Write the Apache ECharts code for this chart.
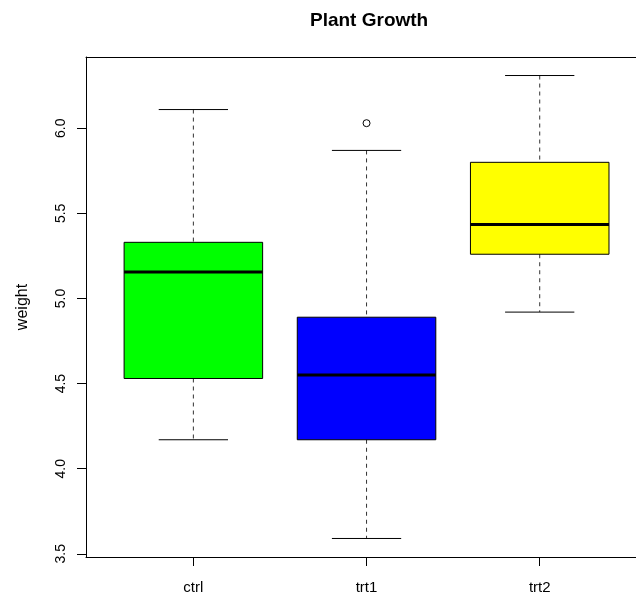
<!DOCTYPE html>
<html><head><meta charset="utf-8">
<script src="https://cdn.jsdelivr.net/npm/echarts@6/dist/echarts.min.js"></script>
<style>html,body{margin:0;padding:0;background:#fff}#c{width:636px;height:595px}</style>
</head><body><div id="c"></div>
<script>
var categories = ['ctrl', 'trt1', 'trt2'];
// [lowerWhisker, Q1, median, Q3, upperWhisker]
var boxStats = [
  [4.17, 4.53, 5.155, 5.33, 6.11],
  [3.59, 4.17, 4.55, 4.89, 5.87],
  [4.92, 5.26, 5.435, 5.80, 6.31]
];
var outliers = [[2, 6.03]];
var boxColors = ['#00ff00', '#0000ff', '#ffff00'];
var yTicks = [3.5, 4.0, 4.5, 5.0, 5.5, 6.0];

var chart = echarts.init(document.getElementById('c'), null, {renderer: 'canvas'});
var boxData = boxStats.map(function (s, i) { return [i + 1].concat(s); });

chart.setOption({
  animation: false,
  title: {
    text: 'Plant Growth', left: 305, top: 6,
    textStyle: {fontFamily: 'Liberation Sans', fontWeight: 'bold', fontSize: 19, color: '#000'}
  },
  grid: {left: 86, top: 57, width: 551, height: 501, show: false, containLabel: false},
  xAxis: [{
    type: 'value', min: 0.38, max: 3.556,
    axisLine: {show: true, onZero: false, lineStyle: {color: '#000', width: 1}},
    splitLine: {show: false},
    axisTick: {show: true, inside: false, length: 9, lineStyle: {color: '#000'}, customValues: [1, 2, 3]},
    axisLabel: {
      customValues: [1, 2, 3], margin: 23,
      formatter: function (v) { return categories[Math.round(v) - 1]; },
      fontFamily: 'Liberation Sans', fontSize: 15, color: '#000'
    }
  }, {
    type: 'value', min: 0.38, max: 3.556, position: 'top',
    axisLine: {show: true, onZero: false, lineStyle: {color: '#000', width: 1}},
    splitLine: {show: false}, axisTick: {show: false}, axisLabel: {show: false}
  }],
  yAxis: {
    type: 'value', min: 3.4812, max: 6.4188,
    name: 'weight', nameLocation: 'middle', nameGap: 55, nameRotate: 90,
    nameTextStyle: {fontFamily: 'Liberation Sans', fontSize: 16, color: '#000'},
    axisLine: {show: true, onZero: false, lineStyle: {color: '#000', width: 1}},
    splitLine: {show: false},
    axisTick: {show: true, inside: false, length: 9, lineStyle: {color: '#000'}, customValues: yTicks},
    axisLabel: {
      customValues: yTicks, rotate: 90, margin: 18,
      formatter: function (v) { return v.toFixed(1); },
      fontFamily: 'Liberation Sans', fontSize: 14, color: '#000'
    }
  },
  series: [{
    type: 'custom',
    data: boxData,
    encode: {x: 0, y: [1, 2, 3, 4, 5]},
    renderItem: function (params, api) {
      var x = api.value(0);
      var lw = api.value(1), q1 = api.value(2), md = api.value(3), q3 = api.value(4), uw = api.value(5);
      var half = 0.4, sh = 0.2;
      var pL = api.coord([x - half, q3]);
      var pR = api.coord([x + half, q1]);
      var c = api.coord([x, md]);
      var pLW = api.coord([x, lw]), pUW = api.coord([x, uw]);
      var sL = api.coord([x - sh, lw])[0], sR = api.coord([x + sh, lw])[0];
      var idx = params.dataIndex;
      return {
        type: 'group',
        children: [
          {type: 'line', shape: {x1: c[0], y1: pUW[1], x2: c[0], y2: pL[1]}, style: {stroke: '#333', lineWidth: 1, lineDash: [4, 4]}},
          {type: 'line', shape: {x1: c[0], y1: pR[1], x2: c[0], y2: pLW[1]}, style: {stroke: '#333', lineWidth: 1, lineDash: [4, 4]}},
          {type: 'line', shape: {x1: sL, y1: pUW[1], x2: sR, y2: pUW[1]}, style: {stroke: '#000', lineWidth: 1}},
          {type: 'line', shape: {x1: sL, y1: pLW[1], x2: sR, y2: pLW[1]}, style: {stroke: '#000', lineWidth: 1}},
          {type: 'rect', shape: {x: pL[0], y: pL[1], width: pR[0] - pL[0], height: pR[1] - pL[1]}, style: {fill: boxColors[idx], stroke: '#000', lineWidth: 1}},
          {type: 'line', shape: {x1: pL[0], y1: c[1], x2: pR[0], y2: c[1]}, style: {stroke: '#000', lineWidth: 3}}
        ]
      };
    }
  }, {
    type: 'scatter',
    data: outliers,
    symbol: 'circle', symbolSize: 7,
    itemStyle: {color: '#fff', borderColor: '#000', borderWidth: 1, opacity: 1}
  }]
});
</script></body></html>
